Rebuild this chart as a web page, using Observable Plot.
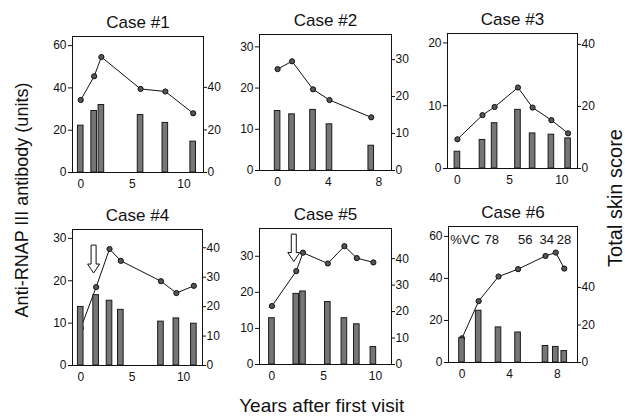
<!DOCTYPE html>
<html><head><meta charset="utf-8">
<script src="https://cdn.jsdelivr.net/npm/d3@7"></script>
<script src="https://cdn.jsdelivr.net/npm/@observablehq/plot@0.6"></script>
<style>
body{margin:0;background:#fff}
#root{position:relative;width:625px;height:416px;overflow:hidden;font-family:"Liberation Sans",Arial,sans-serif;color:#111;background:#fff}
.lab{position:absolute;white-space:nowrap;transform:translate(-50%,-50%);line-height:1}
</style></head>
<body><div id="root"></div>
<script>
// ---- data (years after first visit; line = antibody units (left axis); bars = total skin score (right axis))
const titles = ["Case #1","Case #2","Case #3","Case #4","Case #5","Case #6"];

const case1Years = [0, 1.3, 2.0, 5.8, 8.2, 10.9];
const case1Antibody = [34.3, 45.5, 54.6, 39.5, 38.3, 28.0];
const case1Skin = [22.0, 28.9, 31.7, 27.0, 23.3, 14.5];

const case2Years = [0, 1.14, 2.8, 4.1, 7.4];
const case2Antibody = [24.6, 26.5, 19.7, 17.1, 12.9];
const case2Skin = [16.1, 15.2, 16.4, 12.5, 6.7];

const case3Years = [0, 2.4, 3.56, 5.8, 7.2, 9.0, 10.6];
const case3Antibody = [4.65, 8.5, 9.8, 12.9, 9.7, 7.7, 5.6];
const case3Skin = [5.4, 9.2, 14.6, 18.9, 11.3, 10.9, 9.7];

const case4Years = [0, 1.5, 2.8, 3.9, 7.8, 9.3, 11.0];
const case4Antibody = [8.8, 18.5, 27.5, 24.7, 19.9, 17.1, 18.8];
const case4Skin = [19.9, 23.9, 22.0, 18.9, 14.9, 16.0, 14.2];

const case5Years = [0, 2.35, 3.0, 5.4, 7.0, 8.2, 9.8];
const case5Antibody = [16.2, 25.9, 31.0, 28.0, 32.8, 29.5, 28.3];
const case5Skin = [17.5, 26.7, 27.6, 23.6, 17.5, 15.2, 6.6];

const case6Years = [0, 1.4, 3.06, 4.7, 7.0, 7.86, 8.57];
const case6Antibody = [11.5, 29.2, 40.9, 44.4, 50.7, 52.3, 44.7];
const case6Skin = [12.9, 27.6, 18.7, 16.0, 8.8, 8.3, 6.1];

// arrows (treatment marks): year, top and tip in antibody units
const case4Arrow = {t: 1.3, top: 28.3, tip: 21.7};
const case5Arrow = {t: 2.16, top: 36.0, tip: 28.4};

// %VC annotations in case 6
const vcLabel = "%VC";
const vcLabelYear = -0.98;
const vcValues = ["78", "56", "34", "28"];
const vcYears = [2.5, 5.3, 7.1, 8.55];

// tick labels
const leftTicks = [[0,20,40,60],[0,10,20,30],[0,10,20],[0,10,20,30],[0,10,20,30],[0,20,40,60]];
const rightTicks = [[0,20,40],[0,10,20,30],[0,20,40],[0,10,20,30,40],[0,10,20,30,40],[0,20,40]];
const xTicks = [[0,5,10],[0,4,8],[0,5,10],[0,5,10],[0,5,10],[0,4,8]];

// ---- layout (frame box in page px, scale domains)
const layout = [
  {L:72, R:203, T:36, B:172, xd:[-0.8, 11.9], yl:64.3, yr:63.9},
  {L:259, R:391, T:34, B:170, xd:[-1.43, 9.0], yl:33.0, yr:36.8},
  {L:447, R:577, T:33, B:168, xd:[-0.95, 11.5], yl:21.5, yr:43.5},
  {L:72, R:202, T:229, B:365, xd:[-0.8, 11.84], yl:32.1, yr:46.2},
  {L:259, R:391, T:228, B:364, xd:[-1.2, 11.55], yl:37.7, yr:51.4},
  {L:448, R:577, T:226, B:362, xd:[-1.13, 9.68], yl:64.7, yr:72.5}
];

const cases = [
  [case1Years, case1Antibody, case1Skin],
  [case2Years, case2Antibody, case2Skin],
  [case3Years, case3Antibody, case3Skin],
  [case4Years, case4Antibody, case4Skin],
  [case5Years, case5Antibody, case5Skin],
  [case6Years, case6Antibody, case6Skin]
];
const arrows = {3: case4Arrow, 4: case5Arrow};

const root = document.getElementById("root");
const FONT = "'Liberation Sans', Arial, sans-serif";

cases.forEach(([years, ab, skin], i) => {
  const g = layout[i];
  const mL = 40, mR = 36, mT = 30, mB = 30;
  const ratio = g.yl / g.yr;
  const lineData = years.map((t, k) => ({t, v: ab[k]}));
  const barData = years.map((t, k) => ({t, v: skin[k] * ratio}));
  const marks = [
    Plot.axisY(leftTicks[i], {anchor: "left", tickSize: 4, tickPadding: 2, label: null, fontSize: 12}),
    Plot.axisY(rightTicks[i].map(v => v * ratio), {anchor: "right", tickSize: 3, tickPadding: 1, label: null, fontSize: 12, tickFormat: d => String(Math.round(d / ratio))}),
    Plot.axisX(xTicks[i], {tickSize: 0, tickPadding: 7, label: null, fontSize: 12}),
    Plot.line(lineData, {x: "t", y: "v", stroke: "#111", strokeWidth: 1}),
    Plot.dot(lineData, {x: "t", y: "v", r: 2.6, fill: "#555", stroke: "#111", strokeWidth: 1}),
    Plot.rect(barData, {x1: "t", x2: "t", y1: 0, y2: "v", insetLeft: -2.8, insetRight: -2.8, fill: "#767676", stroke: "#1a1a1a", strokeWidth: 1}),
    Plot.frame({stroke: "#111", strokeWidth: 1}),
    Plot.text([titles[i]], {text: d => d, frameAnchor: "top", lineAnchor: "middle", dy: -14, fontSize: 17, fontWeight: "normal"})
  ];
  if (i === 5) {
    marks.push(Plot.text([vcLabel], {x: () => vcLabelYear, text: d => d, frameAnchor: "top", lineAnchor: "middle", textAnchor: "start", dy: 13, fontSize: 13}));
    marks.push(Plot.text(vcValues, {x: (d, k) => vcYears[k], text: d => d, frameAnchor: "top", lineAnchor: "middle", dy: 13, fontSize: 13}));
  }
  const svg = Plot.plot({
    width: (g.R - g.L) + mL + mR,
    height: (g.B - g.T) + mT + mB,
    marginLeft: mL, marginRight: mR, marginTop: mT, marginBottom: mB,
    x: {domain: g.xd},
    y: {domain: [0, g.yl]},
    style: {fontFamily: FONT, fontSize: "12px", fontWeight: "normal", background: "transparent", color: "#111", overflow: "visible"},
    marks
  });
  const a = arrows[i];
  if (a) {
    const xs = svg.scale("x"), ys = svg.scale("y");
    const x = xs.apply(a.t), y0 = ys.apply(a.top), y1 = ys.apply(a.tip);
    const sw = 2.5, hw = 6, hh = 9;
    d3.select(svg).append("path")
      .attr("d", `M${x-sw},${y0}L${x+sw},${y0}L${x+sw},${y1-hh}L${x+hw},${y1-hh}L${x},${y1}L${x-hw},${y1-hh}L${x-sw},${y1-hh}Z`)
      .attr("fill", "#fff").attr("stroke", "#111").attr("stroke-width", 1);
  }
  svg.style.position = "absolute";
  svg.style.left = (g.L - mL) + "px";
  svg.style.top = (g.T - mT) + "px";
  root.appendChild(svg);
});

function label(text, x, y, size, rot) {
  const d = document.createElement("div");
  d.className = "lab";
  d.textContent = text;
  d.style.left = x + "px";
  d.style.top = y + "px";
  d.style.fontSize = size + "px";
  if (rot) d.style.transform = "translate(-50%,-50%) rotate(-90deg)";
  root.appendChild(d);
}
label("Anti-RNAP III antibody (units)", 22, 200, 18, true);
label("Total skin score", 615, 198, 20, true);
label("Years after first visit", 321.7, 405, 19, false);
</script>
</body></html>
